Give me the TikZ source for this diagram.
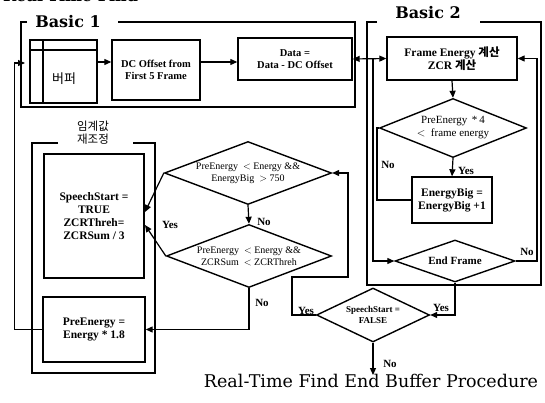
\documentclass[tikz,border=0pt]{standalone}
\usepackage{fontspec}
\setmainfont{Liberation Serif}
\newfontfamily\dvs{DejaVu Serif}
\newfontfamily\kr{Noto Sans CJK KR}
\usetikzlibrary{arrows.meta,shapes.geometric,calc}
\tikzset{
  frame/.style={line width=2.8pt},
  conn/.style={line width=1.2pt},
  arr/.style={line width=1.2pt,-{Triangle[length=7pt,width=6pt]}},
  arrboth/.style={line width=1.2pt,{Triangle[length=7pt,width=6pt]}-{Triangle[length=7pt,width=6pt]}},
  box/.style={draw,line width=1.4pt,align=center,inner sep=1pt,font=\bfseries\fontsize{11.5}{13}\selectfont},
  sbox/.style={box,font=\bfseries\fontsize{10.5}{12.5}\selectfont},
  dia/.style={diamond,draw,line width=1.4pt,inner sep=0pt},
  dtext/.style={align=center,inner sep=0pt,font=\fontsize{10}{12}\selectfont},
  lbl/.style={inner sep=0pt,font=\bfseries\fontsize{11}{12}\selectfont},
  ttl/.style={font=\dvs\bfseries\fontsize{16}{18}\selectfont,inner sep=0pt}
}
\begin{document}
\begin{tikzpicture}[x=1pt,y=-1pt]
\useasboundingbox (0,0) rectangle (545,403);
\fill[white] (0,0) rectangle (545,403);

% cut-off heading at the top
\node[anchor=base west,inner sep=0pt,font=\dvs\bfseries\fontsize{16}{18}\selectfont] (ttop) at (3,1.5) {Real-Time Find};

% ---- Basic 1 ----
\node[ttl] (b1) at (68,22) {Basic 1};
\draw[frame] (27,22) -- (21,22) -- (21,107) -- (355,107) -- (355,22) -- (118,22);

\node[box,minimum width=67pt,minimum height=63pt] (buf) at (63.5,71.5) {};
\draw[line width=1.2pt] (43,40) -- (43,103);
\draw[line width=1.2pt] (30,50) -- (97,50);
\node[inner sep=0pt,font=\kr\fontsize{13}{14}\selectfont] (buft) at (64,79) {버퍼};

\node[sbox,minimum width=88pt,minimum height=60pt] (dc) at (156,70) {DC Offset from\\First 5 Frame};
\node[sbox,minimum width=114pt,minimum height=42pt] (data) at (295,59) {Data =\\Data - DC Offset};

\coordinate (y62) at (0,62);
\draw[arr] (buf.east |- y62) -- (dc.west |- y62);
\draw[arr] (dc.east |- y62) -- (data.west |- y62);

% ---- Basic 2 ----
\node[ttl] (b2) at (428,13) {Basic 2};
\draw[frame] (377,22) -- (367,22) -- (367,285) -- (541,285) -- (541,22) -- (480,22);

\node[box,minimum width=130pt,minimum height=43pt] (fe) at (452,58.5) {Frame Energy {\kr 계산}\\ZCR {\kr 계산}};
\node[dia,minimum width=147pt,minimum height=59pt] (d1) at (453,128) {};
\node[dtext,font=\fontsize{11}{13}\selectfont] at (d1) {PreEnergy \,*\,4\\$<$\ \ frame energy};
\node[box,minimum width=80pt,minimum height=46pt] (eb) at (452,200) {EnergyBig =\\EnergyBig +1};
\node[dia,minimum width=120pt,minimum height=42pt] (ef) at (455,261) {};
\node[dtext,font=\bfseries\fontsize{11}{13}\selectfont] at (ef) {End Frame};

\draw[arrboth] (data.east) -- (fe.west);
\coordinate (j1) at (373,58.5);
\draw[arr] (j1) |- (ef.west);
\draw[arr] (fe.south) -- (d1.north);
\draw[arr] (d1.south) -- (eb.north);
\node[lbl] (yes1) at (466,171) {Yes};
\coordinate (nb) at (377,200);
\draw[conn] (d1.west) -| (nb) -- (eb.west);
\node[lbl] (no1) at (388,165) {No};
\coordinate (efr) at (537,261);
\draw[arr] (ef.east) -- (efr) |- (fe.east);
\node[lbl] (no2) at (527,252) {No};

% ---- SpeechStart = FALSE ----
\node[dia,minimum width=113pt,minimum height=54pt] (ssd) at (373,315) {};
\node[dtext,font=\bfseries\fontsize{9}{11}\selectfont] at (ssd) {SpeechStart =\\FALSE};
\draw[arr] (ef.south) |- (ssd.east);
\node[lbl] (yes2) at (441,308) {Yes};
\coordinate (s1) at (292,315);
\coordinate (s2) at (292,277);
\coordinate (s3) at (348,277);
\node[dia,minimum width=167pt,minimum height=63pt] (a) at (248,173) {};
\node[dtext] at (a) {PreEnergy \ $<$ Energy \&\&\\EnergyBig \ $>$ 750};
\draw[arr] (ssd.west) -- (s1) -- (s2) -- (s3) |- (a.east);
\node[lbl] (yes3) at (306,311) {Yes};
\coordinate (endno) at (373,375);
\draw[arr] (ssd.south) -- (endno);
\node[lbl] (no3) at (390,364) {No};

% ---- threshold group ----
\node[dia,minimum width=165pt,minimum height=63pt] (b) at (249,256) {};
\node[dtext] at (b) {PreEnergy \ $<$ Energy \&\&\\ZCRSum \ $<$ ZCRThreh};
\draw[arr] (a.south) -- (b.north);
\node[lbl] (no4) at (264,222) {No};

\node[inner sep=0pt,align=center,font=\kr\fontsize{11.5}{13}\selectfont] (grp) at (93,133) {임계값\\재조정};
\draw[frame] (58,143) -- (32,143) -- (32,373) -- (155,373) -- (155,143) -- (133,143);
\node[box,minimum width=100pt,minimum height=124pt] (ss) at (94,216) {SpeechStart =\\TRUE\\ZCRThreh=\\ZCRSum / 3};
\node[box,minimum width=102pt,minimum height=65pt] (pe) at (94,329.5) {PreEnergy =\\Energy * 1.8};

\coordinate (ya) at (145,212);
\coordinate (yb) at (145,225);
\draw[arr] (a.west) -- (ya);
\draw[arr] (b.west) -- (yb);
\node[lbl] (yes4) at (170,225) {Yes};
\draw[arr] (b.south) |- (pe.east);
\node[lbl] (no5) at (262,303) {No};

\coordinate (bin) at (25,63);
\draw[arr] (pe.west) -- ++(-28,0) |- (bin);

\node[inner sep=0pt,font=\dvs\fontsize{17.5}{19}\selectfont] (title) at (371,381) {Real-Time Find End Buffer Procedure};
\end{tikzpicture}
\end{document}
